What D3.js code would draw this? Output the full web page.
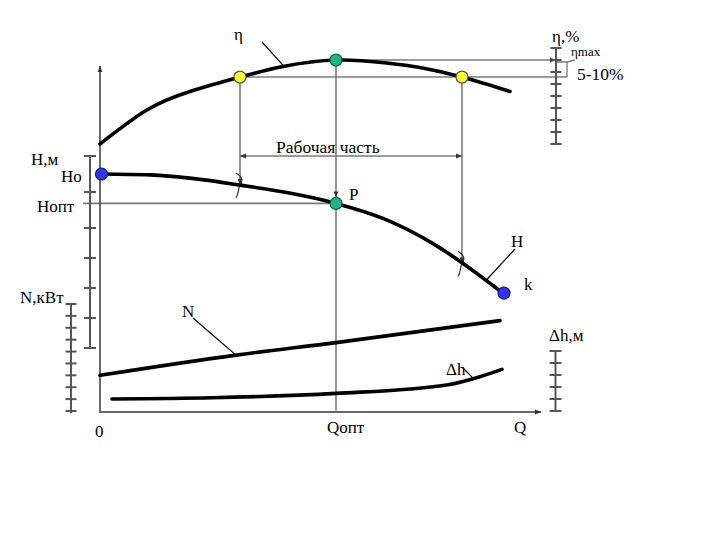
<!DOCTYPE html>
<html>
<head>
<meta charset="utf-8">
<script src="https://cdn.jsdelivr.net/npm/d3@7"></script>
<style>
body{margin:0;background:#fff}
svg{display:block}
</style>
</head>
<body>
<svg></svg>
<script>
var screen = {width:720,height:540}

// flow Q, arbitrary units
var qMax = 110
var qOpt = 59
var qWork = [35, 90.5]
var qK = 101

// efficiency curve, %
var etaQ   = [0, 11.7, 22.5, 35, 45.75, 59, 71.7, 80, 90.5, 102.5]
var etaVal = [0, 28.3, 43.75, 55.8, 64.6, 70, 67.5, 63.75, 55.8, 43.75]
var etaTicks = [0,10,20,30,40,50,60,70,80]
var etaMax = 70
var etaWork = 55.8

// head curve, m
var headQ   = [0, 12.5, 25, 35, 46.7, 59, 70.75, 83.25, 90.75, 100.75]
var headVal = [58, 57.7, 56.2, 54.3, 51.8, 48.2, 43.2, 34.8, 28.2, 18.3]
var headTicks = [0,10,20,30,40,52,64]
var headOpt = 48.2

// power curve, kW
var powerQ   = [0, 34, 59, 100]
var powerVal = [3.0, 4.7, 5.75, 7.6]
var powerTicks = [0,1,2,3,4,5,6,7,8,9]

// cavitation reserve, m
var npshQ   = [3, 28, 59, 86.7, 95, 100.5]
var npshVal = [1.0, 1.1, 1.47, 2.17, 2.86, 3.47]
var npshTicks = [0,1,2,3,4,5]

var zip = function(xs, ys){ return xs.map(function(q,i){ return [q, ys[i]] }) }

var svg = d3.select("svg")
    .attr("width",screen.width)
    .attr("height",screen.height)
    .attr("font-family","'Liberation Serif', 'Times New Roman', 'DejaVu Serif', serif")

var defs = svg.append("defs")
defs.append("marker")
    .attr("id","arr")
    .attr("viewBox","0 0 10 10")
    .attr("refX",10).attr("refY",5)
    .attr("markerWidth",6).attr("markerHeight",6)
    .attr("markerUnits","userSpaceOnUse")
    .attr("orient","auto-start-reverse")
    .append("path")
    .attr("d","M0,1 L10,5 L0,9 z")
    .attr("fill","#333")

var xScale = d3.scaleLinear().domain([0,qMax]).range([100,540])
var yEta   = d3.scaleLinear().domain([0,80]).range([144,48])
var yHead  = d3.scaleLinear().domain([0,64]).range([348,156])
var yPower = d3.scaleLinear().domain([0,9]).range([411,304])
var yNpsh  = d3.scaleLinear().domain([0,5]).range([411,351])

var axisY = 412

var lineOf = function(yScale, curve){
    return d3.line()
        .x(function(d){ return xScale(d[0]) })
        .y(function(d){ return yScale(d[1]) })
        .curve(curve || d3.curveMonotoneX)
}
var etaLine = lineOf(yEta, d3.curveNatural)
var headLine = lineOf(yHead)
var powerLine = lineOf(yPower)
var npshLine = lineOf(yNpsh)

// helper lines
var guide = svg.append("g")
    .attr("stroke","#7a7a7a")
    .attr("stroke-width",1.6)
    .attr("fill","none")

var xOpt = xScale(qOpt)
var xL = xScale(qWork[0]), xR = xScale(qWork[1])
var yTop = yEta(etaMax), yW = yEta(etaWork)
var yOpt = yHead(headOpt)
var etaAxisX = 556

guide.append("line")
    .attr("x1",xOpt).attr("y1",yTop).attr("x2",etaAxisX).attr("y2",yTop)
    .attr("marker-end","url(#arr)")
guide.append("line")
    .attr("x1",xL).attr("y1",yW).attr("x2",567).attr("y2",yW)
guide.append("path")
    .attr("d","M557,62 L567,62 L567,"+yW+" M567,62 L575,60")
    .attr("stroke-width",1.3)

// vertical at Qopt
guide.append("line")
    .attr("x1",xOpt).attr("y1",yTop).attr("x2",xOpt).attr("y2",yOpt-6)
    .attr("marker-end","url(#arr)")
guide.append("line")
    .attr("x1",xOpt).attr("y1",yOpt).attr("x2",xOpt).attr("y2",axisY)
    .attr("stroke","#444")
    .attr("stroke-width",1.1)

// Hopt line
guide.append("line")
    .attr("x1",83).attr("y1",yOpt).attr("x2",xOpt).attr("y2",yOpt)

// verticals from working points down to H curve
var crossL = yHead(54.3), crossR = yHead(28.2)
guide.append("line")
    .attr("x1",xL).attr("y1",yW).attr("x2",xL).attr("y2",crossL)
    .attr("marker-end","url(#arr)")
guide.append("line")
    .attr("x1",xR).attr("y1",yW).attr("x2",xR).attr("y2",crossR)
    .attr("marker-end","url(#arr)")

var squiggle = function(x, y){
    return "M"+(x-4)+","+(y-12)+" C"+(x+4)+","+(y-8)+" "+(x+2)+","+(y-2)+" "+x+","+y
        +" C"+(x-2)+","+(y+3)+" "+(x-1)+","+(y+9)+" "+(x-4)+","+(y+13)
}
guide.append("path").attr("d",squiggle(xL, crossL)).attr("stroke","#333").attr("stroke-width",1.2)
guide.append("path").attr("d",squiggle(xR, crossR)).attr("stroke","#333").attr("stroke-width",1.2)

// Рабочая часть dimension
guide.append("line")
    .attr("x1",xL).attr("y1",156).attr("x2",xR).attr("y2",156)
    .attr("marker-start","url(#arr)")
    .attr("marker-end","url(#arr)")

// main axes
svg.append("line")
    .attr("x1",100).attr("y1",axisY).attr("x2",100).attr("y2",66)
    .attr("stroke","#444").attr("stroke-width",1.6)
    .attr("marker-end","url(#arr)")
svg.append("line")
    .attr("x1",99).attr("y1",axisY).attr("x2",541).attr("y2",axisY)
    .attr("stroke","#666").attr("stroke-width",2)
    .attr("marker-end","url(#arr)")

// side tick axes
var tickAxis = function(scale, ticks, x, half, top, bottom){
    var g = svg.append("g").attr("stroke","#555").attr("stroke-width",2)
    g.append("line")
        .attr("x1",x).attr("x2",x)
        .attr("y1",top === undefined ? scale(ticks[ticks.length-1]) : top)
        .attr("y2",bottom === undefined ? scale(ticks[0]) : bottom)
    g.selectAll(".t")
        .data(ticks)
        .enter()
        .append("line")
        .attr("x1",x-half).attr("x2",x+half)
        .attr("y1",function(d){ return scale(d) })
        .attr("y2",function(d){ return scale(d) })
}
tickAxis(yHead, headTicks, 90, 6)
tickAxis(yPower, powerTicks, 71, 5.5, 303, 413)
tickAxis(yEta, etaTicks, etaAxisX, 5.5)
tickAxis(yNpsh, npshTicks, 555.5, 6)

// curves
var curves = svg.append("g")
    .attr("fill","none")
    .attr("stroke","#000")
    .attr("stroke-width",3.6)
    .attr("stroke-linecap","round")

curves.append("path").attr("d",etaLine(zip(etaQ, etaVal)))
curves.append("path").attr("d",headLine(zip(headQ, headVal)))
curves.append("path").attr("d",powerLine(zip(powerQ, powerVal)))
curves.append("path").attr("d",npshLine(zip(npshQ, npshVal)))

// leader lines
var leaders = svg.append("g").attr("stroke","#000").attr("stroke-width",1.2)
leaders.append("line").attr("x1",262).attr("y1",42).attr("x2",xScale(46)).attr("y2",yEta(64.7))
leaders.append("line").attr("x1",193).attr("y1",318).attr("x2",xScale(34)).attr("y2",yPower(4.7))
leaders.append("line").attr("x1",515).attr("y1",249).attr("x2",xScale(96.5)).attr("y2",yHead(22.5))
leaders.append("line").attr("x1",463).attr("y1",368).attr("x2",xScale(93.5)).attr("y2",yNpsh(2.66))

// points
var dots = [
    {q:qOpt, y:yEta(etaMax), fill:"#1fb385", stroke:"#0d5c45"},
    {q:qWork[0], y:yW, fill:"#ffff33", stroke:"#555"},
    {q:qWork[1], y:yW, fill:"#ffff33", stroke:"#555"},
    {q:0, y:yHead(58), fill:"#3434ee", stroke:"#1a1a66"},
    {q:qK, y:yHead(18.3), fill:"#3434ee", stroke:"#1a1a66"},
    {q:qOpt, y:yOpt, fill:"#1fb385", stroke:"#0d5c45"}
]
svg.selectAll("circle")
    .data(dots)
    .enter()
    .append("circle")
    .attr("cx",function(d){ return xScale(d.q) + (d.q === 0 ? 1.5 : 0) })
    .attr("cy",function(d){ return d.y })
    .attr("r",6)
    .attr("fill",function(d){ return d.fill })
    .attr("stroke",function(d){ return d.stroke })
    .attr("stroke-width",1.2)

// labels
var labels = [
    {t:"η", x:234, y:40, s:17},
    {t:"η,%", x:552, y:42, s:17},
    {t:"ηmax", x:571, y:56, s:13},
    {t:"5-10%", x:577, y:80, s:17.5},
    {t:"Рабочая часть", x:276, y:153, s:17.5},
    {t:"H,м", x:31, y:165, s:17},
    {t:"Hо", x:61, y:182, s:17},
    {t:"Hопт", x:37, y:212, s:17},
    {t:"P", x:349, y:200, s:17},
    {t:"H", x:511, y:247, s:17},
    {t:"k", x:524, y:290, s:17},
    {t:"N,кВт", x:20, y:303, s:17},
    {t:"N", x:182, y:317, s:17},
    {t:"Δh,м", x:549, y:341, s:17},
    {t:"Δh", x:446, y:375, s:17},
    {t:"0", x:95, y:437, s:17},
    {t:"Qопт", x:327, y:433, s:17},
    {t:"Q", x:514, y:433, s:17}
]
svg.selectAll(".lbl")
    .data(labels)
    .enter()
    .append("text")
    .attr("class","lbl")
    .attr("x",function(d){ return d.x })
    .attr("y",function(d){ return d.y })
    .attr("fill","#000")
    .style("font-size",function(d){ return d.s+"px" })
    .text(function(d){ return d.t })
</script>
</body>
</html>
